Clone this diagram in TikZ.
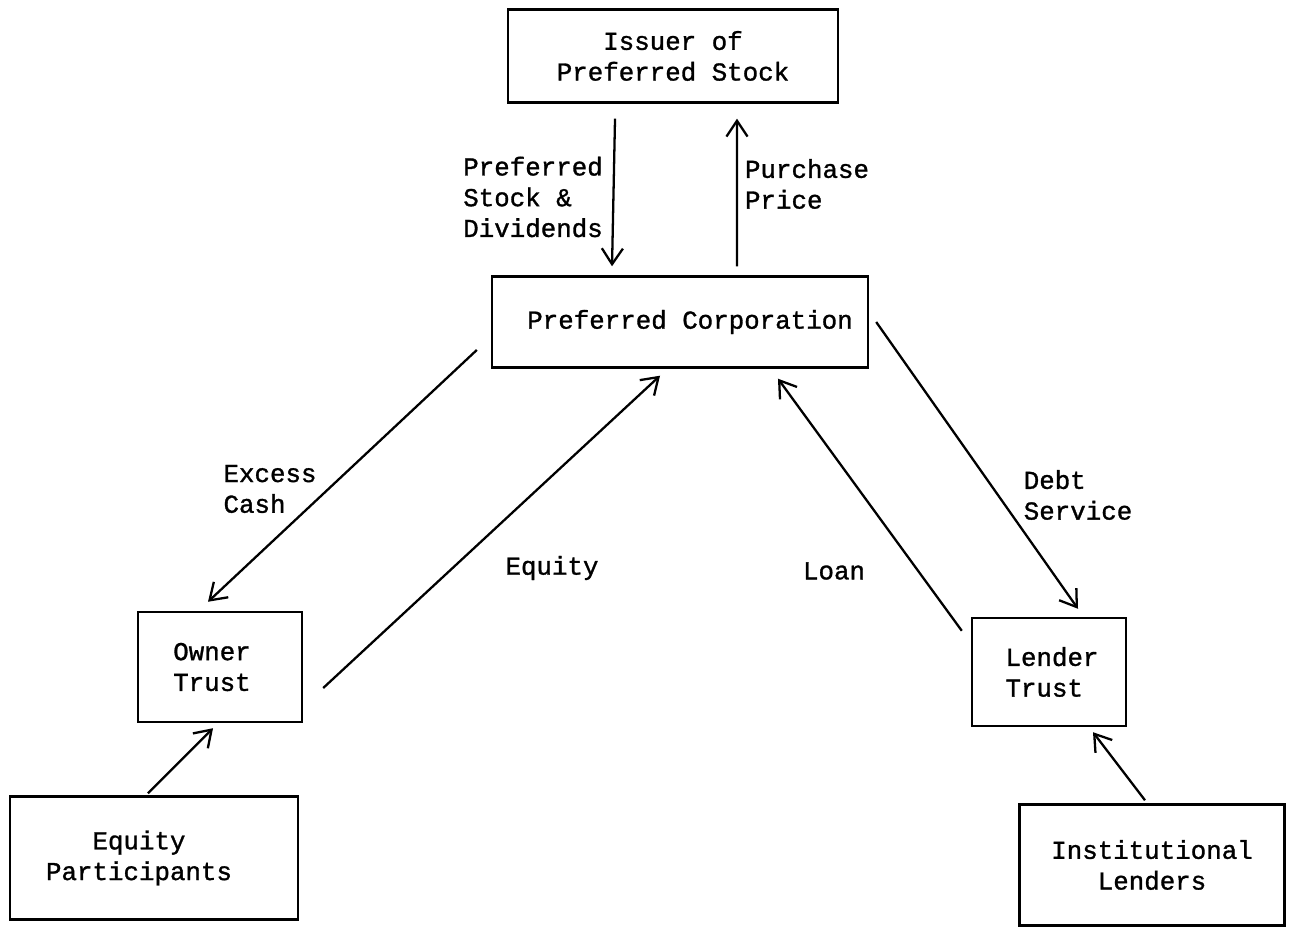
\documentclass[tikz,border=0pt]{standalone}
\usepackage{fontspec}
\setmonofont[BoldFont=Liberation Mono, BoldFeatures={FakeBold=1.2}]{Liberation Mono}
\usepackage{tikz}
\usetikzlibrary{arrows.meta}

\begin{document}
\begin{tikzpicture}[x=0.02cm, y=-0.02cm,
		font=\ttfamily\bfseries\fontsize{14.7}{17.5}\selectfont,
		box/.style={rectangle, draw, line width=1.4pt, align=center, inner sep=0pt},
		flow/.style={-{Straight Barb[length=9pt, width=12pt, line width=1.3pt]}, line width=1.3pt},
		etiqueta/.style={align=left, inner sep=0pt}]

		\useasboundingbox (0,0) rectangle (1290,928);

		% Nodes
		\node[box, minimum width=6.6cm, minimum height=1.86cm] (issuer) at (673,56) {Issuer of\\Preferred Stock};
		\node[box, minimum width=7.52cm, minimum height=1.82cm] (corp) at (680,322) {\hspace*{0.4cm}Preferred Corporation};
		\node[box, minimum width=3.28cm, minimum height=2.2cm] (owner) at (220,667) {Owner\hspace*{0.32cm}\\Trust\hspace*{0.32cm}};
		\node[box, align=left, minimum width=3.08cm, minimum height=2.16cm] (lender) at (1049,672) {\hspace*{0.12cm}Lender\\\hspace*{0.12cm}Trust};
		\node[box, minimum width=5.76cm, minimum height=2.46cm] (equity_part) at (154,858) {Equity\hspace*{0.6cm}\\Participants\hspace*{0.6cm}};
		\node[box, minimum width=5.3cm, minimum height=2.42cm] (inst_lenders) at (1152,865) {Institutional\\Lenders};

		% Labels
		\node[etiqueta] (l_stock) at (533,197) {Preferred\\Stock \&\\Dividends};
		\node[etiqueta] (l_price) at (807,184) {Purchase\\Price};
		\node[etiqueta] (l_cash) at (270,489) {Excess\\Cash};
		\node[etiqueta] (l_equity) at (552,568) {Equity};
		\node[etiqueta] (l_loan) at (834,571) {Loan};
		\node[etiqueta] (l_debt) at (1078,495) {Debt\\Service};

		% Edges
		\draw[flow] ([xshift=-1.16cm, yshift=-0.3cm]issuer.south) -- ([xshift=-1.36cm, yshift=0.18cm]corp.north);
		\draw[flow] ([xshift=1.14cm, yshift=0.18cm]corp.north) -- ([xshift=1.28cm, yshift=-0.3cm]issuer.south);
		\draw[flow] ([xshift=-0.28cm, yshift=-0.56cm]corp.west) -- ([xshift=-0.24cm, yshift=0.18cm]owner.north);
		\draw[flow] ([xshift=0.4cm, yshift=-0.42cm]owner.east) -- ([xshift=-0.4cm, yshift=-0.14cm]corp.south);
		\draw[flow] ([xshift=-0.18cm, yshift=-0.28cm]lender.north west) -- ([xshift=1.96cm, yshift=-0.2cm]corp.south);
		\draw[flow] ([xshift=0.14cm]corp.east) -- ([xshift=0.58cm, yshift=0.16cm]lender.north);
		\draw[flow] ([xshift=-0.12cm, yshift=0.04cm]equity_part.north) -- ([xshift=-0.14cm, yshift=-0.1cm]owner.south);
		\draw[flow] ([xshift=-0.14cm, yshift=0.06cm]inst_lenders.north) -- ([xshift=0.88cm, yshift=-0.1cm]lender.south);

\end{tikzpicture}
\end{document}
